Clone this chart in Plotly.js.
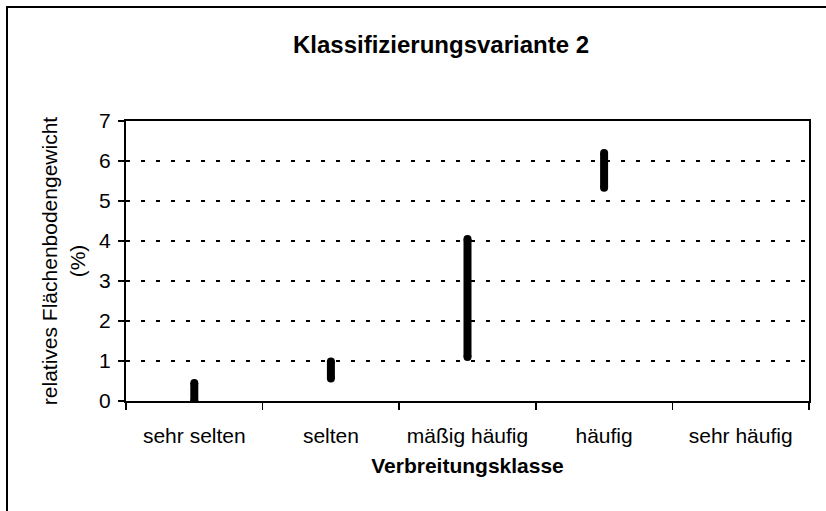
<!DOCTYPE html>
<html>
<head>
<meta charset="utf-8">
<script src="https://cdn.plot.ly/plotly-3.0.1.min.js"></script>
<style>
html, body { margin: 0; padding: 0; overflow: hidden; background: #fff; }
#frame { position: absolute; left: 6px; top: 6px; width: 900px; height: 600px;
  border-left: 2px solid #000; border-top: 2px solid #000; pointer-events: none; }
#chart { position: absolute; left: 0; top: 0; width: 826px; height: 511px; }
</style>
</head>
<body>
<div id="chart"></div>
<div id="frame"></div>
<script>
// Data
const categories = ["sehr selten", "selten", "mäßig häufig", "häufig", "sehr häufig"];
const lowValues  = [0.0, 0.56, 1.1, 5.33, null];
const highValues = [0.45, 0.99, 4.05, 6.2, null];
const yTickValues = [0, 1, 2, 3, 4, 5, 6, 7];

const chartTitle = "Klassifizierungsvariante 2";
const xTitle = "Verbreitungsklasse";
const yTitle = "relatives Flächenbodengewicht<br>(%)";

// Build range segments (one line per category, broken with nulls)
const segX = [], segY = [];
categories.forEach((c, i) => {
  if (lowValues[i] === null || highValues[i] === null) return;
  segX.push(c, c, null);
  segY.push(lowValues[i], highValues[i], null);
});

const font = "Liberation Sans, Arial, sans-serif";

const traces = [{
  type: "scatter",
  mode: "lines+markers",
  x: segX,
  y: segY,
  line: { color: "#000", width: 8 },
  marker: { color: "#000", size: 8, symbol: "circle", line: { width: 0 } },
  hoverinfo: "x+y",
  showlegend: false,
  cliponaxis: true
}];

const layout = {
  width: 826,
  height: 511,
  margin: { l: 126, r: 17, t: 121, b: 110 },
  paper_bgcolor: "#fff",
  plot_bgcolor: "#fff",
  font: { family: font, color: "#000", size: 21 },
  showlegend: false,
  title: {
    text: "<b>" + chartTitle + "</b>",
    font: { family: font, size: 24, color: "#000" },
    x: 441 / 826, xref: "container", xanchor: "center",
    y: 1 - 45 / 511, yref: "container", yanchor: "middle"
  },
  xaxis: {
    type: "category",
    categoryorder: "array",
    categoryarray: categories,
    range: [-0.5, categories.length - 0.5],
    tickson: "boundaries",
    ticks: "outside",
    ticklen: 7,
    tickwidth: 1.5,
    tickcolor: "#000",
    ticklabelstandoff: 15,
    showline: true,
    linecolor: "#000",
    linewidth: 2,
    mirror: true,
    showgrid: false,
    zeroline: false,
    tickfont: { family: font, size: 21, color: "#000" },
    title: { text: "<b>" + xTitle + "</b>", font: { family: font, size: 21, color: "#000" }, standoff: 12 },
    fixedrange: true
  },
  yaxis: {
    range: [0, 7],
    tickvals: yTickValues,
    ticktext: yTickValues.map(String),
    ticks: "outside",
    ticklen: 6,
    tickwidth: 1.5,
    tickcolor: "#000",
    ticklabelstandoff: 3,
    showline: true,
    linecolor: "#000",
    linewidth: 2,
    mirror: true,
    showgrid: true,
    gridcolor: "#000",
    gridwidth: 1.5,
    griddash: "4px,11px",
    zeroline: false,
    tickfont: { family: font, size: 21, color: "#000" },
    title: { text: yTitle, font: { family: font, size: 21, color: "#000" }, standoff: 8 },
    fixedrange: true
  }
};

Plotly.newPlot("chart", traces, layout, { displayModeBar: false, staticPlot: true });
</script>
</body>
</html>
